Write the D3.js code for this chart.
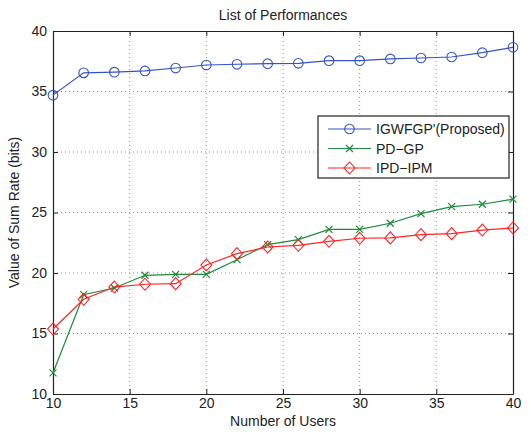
<!DOCTYPE html>
<html>
<head>
<meta charset="utf-8">
<script src="https://cdn.jsdelivr.net/npm/d3@7"></script>
<style>
  body { margin: 0; background: #fff; }
  text { font-family: "Liberation Sans", Arial, sans-serif; fill: #222; }
</style>
</head>
<body>
<svg id="chart" width="531" height="432"></svg>
<script>
// Data
const users = [10, 12, 14, 16, 18, 20, 22, 24, 26, 28, 30, 32, 34, 36, 38, 40]
const igwfgp = [34.7, 36.54, 36.6, 36.7, 36.94, 37.19, 37.25, 37.3, 37.33, 37.55, 37.55, 37.69, 37.77, 37.85, 38.21, 38.65]
const pdgp = [11.74, 18.21, 18.76, 19.81, 19.89, 19.89, 21.1, 22.35, 22.76, 23.61, 23.61, 24.11, 24.91, 25.49, 25.68, 26.1]
const ipdipm = [15.37, 17.83, 18.84, 19.07, 19.12, 20.66, 21.6, 22.15, 22.29, 22.62, 22.87, 22.9, 23.17, 23.25, 23.55, 23.72]
const x_ticks = [10, 15, 20, 25, 30, 35, 40]
const y_ticks = [10, 15, 20, 25, 30, 35, 40]
const series_names = ["IGWFGP'(Proposed)", 'PD\u2212GP', 'IPD\u2212IPM']

const colors = ['#3553c4', '#1e8a3e', '#ff2424']
const markers = ['circle', 'cross', 'diamond']
const series = [igwfgp, pdgp, ipdipm]

const margin = { left: 53, right: 18, top: 31, bottom: 38 }
const width = 531, height = 432
const svg = d3.select('#chart')

const x = d3.scaleLinear().domain([10, 40]).range([margin.left, width - margin.right])
const y = d3.scaleLinear().domain([10, 40]).range([height - margin.bottom, margin.top])

// Grid
const grid = svg.append('g')
grid.selectAll('.vgrid')
  .data(x_ticks.slice(1, -1))
  .join('line')
  .attr('x1', d => x(d)).attr('x2', d => x(d))
  .attr('y1', y(10)).attr('y2', y(40))
  .style('stroke', '#777').style('stroke-width', 0.8)
  .style('stroke-dasharray', '1,3')
grid.selectAll('.hgrid')
  .data(y_ticks.slice(1, -1))
  .join('line')
  .attr('y1', d => y(d)).attr('y2', d => y(d))
  .attr('x1', x(10)).attr('x2', x(40))
  .style('stroke', '#777').style('stroke-width', 0.8)
  .style('stroke-dasharray', '1,3')

// Axes (ticks inside, mirrored)
svg.append('g')
  .attr('transform', `translate(0,${y(10)})`)
  .call(d3.axisBottom(x).tickValues(x_ticks).tickSizeInner(-5).tickSizeOuter(0).tickPadding(4))
svg.append('g')
  .attr('transform', `translate(0,${y(40)})`)
  .call(d3.axisTop(x).tickValues(x_ticks).tickSizeInner(-5).tickSizeOuter(0).tickFormat(''))
svg.append('g')
  .attr('transform', `translate(${x(10)},0)`)
  .call(d3.axisLeft(y).tickValues(y_ticks).tickSizeInner(-5).tickSizeOuter(0).tickPadding(6))
svg.append('g')
  .attr('transform', `translate(${x(40)},0)`)
  .call(d3.axisRight(y).tickValues(y_ticks).tickSizeInner(-5).tickSizeOuter(0).tickFormat(''))

svg.selectAll('.domain').style('stroke', '#222').style('stroke-width', 1.2)
svg.selectAll('.tick line').style('stroke', '#222')
svg.selectAll('.tick text')
  .style('font-family', '"Liberation Sans", Arial, sans-serif')
  .style('font-size', '14px').style('fill', '#222')

function draw_marker(g, type, color) {
  if (type == 'circle') {
    g.append('circle').attr('r', 4.8)
      .style('fill', 'none').style('stroke', color).style('stroke-width', 1.1)
  } else if (type == 'cross') {
    g.append('path').attr('d', 'M-3.5,-3.5L3.5,3.5M-3.5,3.5L3.5,-3.5')
      .style('stroke', color).style('stroke-width', 1.2)
  } else {
    g.append('path').attr('d', 'M0,-6L5.5,0L0,6L-5.5,0Z')
      .style('fill', 'none').style('stroke', color).style('stroke-width', 1.1)
  }
}

// Lines and markers
series.forEach((vals, i) => {
  let pts = users.map((u, j) => [u, vals[j]])
  svg.append('path')
    .datum(pts)
    .attr('d', d3.line().x(d => x(d[0])).y(d => y(d[1])))
    .style('fill', 'none').style('stroke', colors[i]).style('stroke-width', 1.2)
  pts.forEach(p => {
    let g = svg.append('g').attr('transform', `translate(${x(p[0])},${y(p[1])})`)
    draw_marker(g, markers[i], colors[i])
  })
})

// Legend
let legend = svg.append('g').attr('transform', 'translate(318,116)')
legend.append('rect')
  .attr('width', 191).attr('height', 62)
  .style('fill', '#fff').style('stroke', '#222').style('stroke-width', 1.2)
series_names.forEach((name, i) => {
  let ly = 13 + i * 19.5
  legend.append('line')
    .attr('x1', 10).attr('x2', 53).attr('y1', ly).attr('y2', ly)
    .style('stroke', colors[i]).style('stroke-width', 1.2)
  let g = legend.append('g').attr('transform', `translate(31.5,${ly})`)
  draw_marker(g, markers[i], colors[i])
  legend.append('text')
    .attr('x', 58).attr('y', ly + 5)
    .style('font-size', '14px')
    .text(name)
})

// Title and labels
svg.append('text')
  .attr('x', (x(10) + x(40)) / 2).attr('y', 20)
  .attr('text-anchor', 'middle').style('font-size', '14px')
  .text('List of Performances')
svg.append('text')
  .attr('x', (x(10) + x(40)) / 2).attr('y', 426)
  .attr('text-anchor', 'middle').style('font-size', '14px')
  .text('Number of Users')
svg.append('text')
  .attr('transform', `translate(19,${(y(10) + y(40)) / 2}) rotate(-90)`)
  .attr('text-anchor', 'middle').style('font-size', '14px')
  .text('Value of Sum Rate (bits)')
</script>
</body>
</html>
